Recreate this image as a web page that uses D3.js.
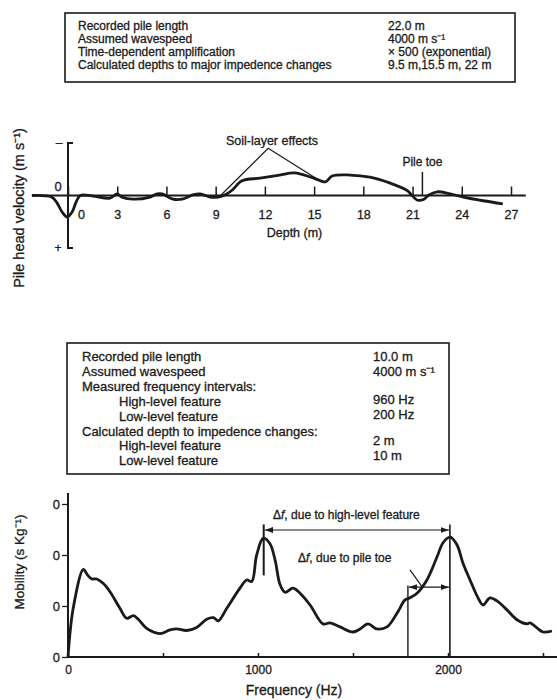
<!DOCTYPE html>
<html>
<head>
<meta charset="utf-8">
<script src="https://cdn.jsdelivr.net/npm/d3@7"></script>
<style>
  body { margin: 0; background: #fff; }
  svg { font-family: "Liberation Sans", Arial, sans-serif; fill: #1a1a1a; }
  svg text { stroke: #1a1a1a; stroke-width: 0.3px; }
</style>
</head>
<body>
<svg width="557" height="700"></svg>
<script>
// top table
var topLabels = ['Recorded pile length', 'Assumed wavespeed', 'Time-dependent amplification', 'Calculated depths to major impedence changes'];
var topValues = ['22.0 m', '4000 m s\u207B\u00B9', '\u00D7 500 (exponential)', '9.5 m,15.5 m, 22 m'];

// top chart: pile head velocity vs depth
var depth = [-2.2, -1.0, -0.67, -0.37, -0.05, 0.26, 0.5, 0.75, 1.5, 2.56, 2.99, 3.29, 3.96, 5.0, 5.43, 5.73, 6.4, 6.95, 7.6, 8.05, 8.66, 9.15, 9.5,
  10.0, 10.6, 11.7, 12.9, 13.8, 14.8, 15.4, 15.7, 16.1, 17.2, 18.4, 19.6, 20.7, 21.0, 21.3, 21.7, 21.95, 22.5, 23.3, 24.1, 25.3, 26.5];
var velocity = [0, 0.03, 0.14, 0.31, 0.41, 0.31, 0.12, 0, 0.01, 0.05, -0.03, 0.03, 0.07, 0.03, -0.03, -0.03, 0.07, 0.07, -0.01, -0.03, 0.03, 0.03, 0,
  -0.1, -0.28, -0.33, -0.39, -0.43, -0.35, -0.28, -0.26, -0.37, -0.39, -0.35, -0.24, -0.09, 0.01, 0.09, 0.07, 0, -0.07, -0.03, 0.03, 0.1, 0.16];
var depthTicks = [0, 3, 6, 9, 12, 15, 18, 21, 24, 27];

// bottom table
var botLabels = ['Recorded pile length', 'Assumed wavespeed', 'Measured frequency intervals:', 'High-level feature', 'Low-level feature',
  'Calculated depth to impedence changes:', 'High-level feature', 'Low-level feature'];
var botIndent = [0, 0, 0, 1, 1, 0, 1, 1];
var botValues = ['10.0 m', '4000 m s\u207B\u00B9', '', '960 Hz', '200 Hz', '', '2 m', '10 m'];

// bottom chart: mobility vs frequency
var freq = [0, 28, 81, 102, 125, 151, 186, 221, 274, 309, 344, 370, 414, 484, 537, 572, 625, 677, 730, 765, 791, 835, 905, 941, 967, 993, 1028,
  1063, 1090, 1116, 1142, 1184, 1221, 1274, 1342, 1379, 1432, 1500, 1537, 1579, 1626, 1679, 1732, 1774, 1800, 1837, 1889, 1942, 1974, 2011,
  2047, 2079, 2116, 2158, 2184, 2221, 2258, 2311, 2363, 2416, 2432, 2468, 2500, 2547];
var mobility = [0, 0.97, 1.72, 1.61, 1.53, 1.53, 1.44, 1.28, 0.95, 0.76, 0.81, 0.74, 0.56, 0.46, 0.53, 0.55, 0.52, 0.58, 0.74, 0.77, 0.71, 0.95,
  1.35, 1.51, 1.48, 2.0, 2.33, 2.22, 1.9, 1.42, 1.27, 1.35, 1.25, 1.02, 0.65, 0.67, 0.59, 0.49, 0.55, 0.65, 0.55, 0.59, 0.86, 1.12, 1.16, 1.25,
  1.51, 1.96, 2.24, 2.35, 2.2, 1.84, 1.51, 1.16, 1.02, 1.16, 1.1, 0.92, 0.73, 0.65, 0.67, 0.57, 0.49, 0.51];
var freqTicks = [0, 500, 1000, 1500, 2000, 2500];
var freqLabels = [0, 1000, 2000];
var mobTicks = [0, 1, 2, 3];

var svg = d3.select('svg');
var ink = '#1a1a1a';

svg.append('defs').append('marker')
  .attr('id', 'arr')
  .attr('viewBox', '0 0 10 10')
  .attr('refX', 10).attr('refY', 5)
  .attr('markerWidth', 7).attr('markerHeight', 7)
  .attr('orient', 'auto-start-reverse')
  .append('path').attr('d', 'M0,1.5L10,5L0,8.5Z').attr('fill', ink);

function drawTable(x0, y0, w, h, labels, values, opts) {
  var g = svg.append('g');
  g.append('rect')
    .attr('x', x0).attr('y', y0).attr('width', w).attr('height', h)
    .attr('fill', 'none').attr('stroke', ink).attr('stroke-width', 1.6);
  g.selectAll('text.lab')
    .data(labels)
    .enter().append('text')
    .attr('x', function(d, i) { return opts.tx + (opts.indent ? opts.indent[i] * 37 : 0); })
    .attr('y', function(d, i) { return opts.ty + i * opts.dy; })
    .style('font-size', opts.fs + 'px')
    .text(function(d) { return d; });
  g.selectAll('text.val')
    .data(values)
    .enter().append('text')
    .attr('x', opts.vx)
    .attr('y', function(d, i) { return opts.ty + i * opts.dy - (opts.vshift ? opts.vshift[i] : 0); })
    .style('font-size', opts.fs + 'px')
    .text(function(d) { return d; });
}

drawTable(65, 13, 450, 69, topLabels, topValues, { tx: 78, vx: 388, ty: 30, dy: 13, fs: 12 });

// ---- top chart
var x1 = d3.scaleLinear().domain([0, 27]).range([68, 511]);
var y1 = d3.scaleLinear().domain([-1, 1]).range([143, 248]);

// baseline with upward ticks
var ax1 = svg.append('g')
  .attr('transform', 'translate(0,' + y1(0) + ')')
  .call(d3.axisBottom(x1).tickValues(depthTicks).tickSize(-9).tickPadding(15).tickFormat(d3.format('d')));
ax1.select('.domain').remove();
ax1.selectAll('line').attr('stroke', ink).attr('stroke-width', 1.5);
ax1.selectAll('text').style('font-size', '12.5px').attr('fill', ink)
  .attr('dx', function(d) { return d === 0 ? 13 : 0; });
svg.append('line')
  .attr('x1', x1(-2.2)).attr('x2', x1(27.9))
  .attr('y1', y1(0)).attr('y2', y1(0))
  .attr('stroke', ink).attr('stroke-width', 2);

// bracket y axis
svg.append('path')
  .attr('d', 'M' + (x1(0) + 5) + ',' + y1(-1) + 'H' + x1(0) + 'V' + y1(1) + 'H' + (x1(0) + 5))
  .attr('fill', 'none').attr('stroke', ink).attr('stroke-width', 2);
svg.append('text').attr('x', x1(0) - 9).attr('y', y1(-1) + 4).attr('text-anchor', 'middle').style('font-size', '12px').text('\u2013');
svg.append('text').attr('x', x1(0) - 10).attr('y', y1(1) + 4).attr('text-anchor', 'middle').style('font-size', '12px').text('+');
svg.append('text').attr('x', x1(0) - 10).attr('y', y1(0) - 5).attr('text-anchor', 'middle').style('font-size', '13px').text('0');

svg.append('text')
  .attr('x', (x1(0) + x1(27)) / 2 + 5).attr('y', 237)
  .attr('text-anchor', 'middle').style('font-size', '12.5px')
  .text('Depth (m)');
svg.append('text')
  .attr('transform', 'translate(24,' + 208 + ') rotate(-90)')
  .attr('text-anchor', 'middle').style('font-size', '14.5px')
  .text('Pile head velocity (m s\u207B\u00B9)');

var line1 = d3.line()
  .x(function(d, i) { return x1(depth[i]); })
  .y(function(d) { return y1(d); })
  .curve(d3.curveCatmullRom);
svg.append('path')
  .datum(velocity)
  .attr('fill', 'none').attr('stroke', ink).attr('stroke-width', 2.8)
  .attr('stroke-linejoin', 'round')
  .attr('d', line1);

// soil layer annotation
var apex = [x1(12.2), y1(-0.9)];
svg.append('path')
  .attr('d', 'M' + x1(9.3) + ',' + y1(0) + 'L' + apex[0] + ',' + apex[1] + 'L' + x1(15.3) + ',' + y1(-0.29))
  .attr('fill', 'none').attr('stroke', ink).attr('stroke-width', 1.2);
svg.append('text').attr('x', 272).attr('y', 145).attr('text-anchor', 'middle').style('font-size', '12.5px').text('Soil-layer effects');

// pile toe
svg.append('line')
  .attr('x1', x1(21.6)).attr('x2', x1(21.6))
  .attr('y1', y1(0)).attr('y2', y1(-0.45))
  .attr('stroke', ink).attr('stroke-width', 1.5);
svg.append('text').attr('x', x1(21.6)).attr('y', 166).attr('text-anchor', 'middle').style('font-size', '12px').text('Pile toe');

// ---- bottom table
drawTable(67, 343, 382, 131, botLabels, botValues,
  { tx: 82, vx: 373, ty: 361, dy: 14.9, fs: 13, indent: botIndent, vshift: [0, 0, 0, 2, 2, 0, 5, 5] });

// ---- bottom chart
var x2 = d3.scaleLinear().domain([0, 2000]).range([68, 448]);
var y2 = d3.scaleLinear().domain([0, 3]).range([657, 504]);

var ax2 = svg.append('g')
  .attr('transform', 'translate(0,' + y2(0) + ')')
  .call(d3.axisBottom(x2).tickValues(freqTicks).tickSize(-4).tickPadding(8)
    .tickFormat(function(d) { return freqLabels.indexOf(d) >= 0 ? d : ''; }));
ax2.select('.domain').remove();
ax2.selectAll('line').attr('stroke', ink).attr('stroke-width', 1.5);
ax2.selectAll('text').style('font-size', '12px').attr('fill', ink);
svg.append('line')
  .attr('x1', x2(0)).attr('x2', 557)
  .attr('y1', y2(0)).attr('y2', y2(0))
  .attr('stroke', ink).attr('stroke-width', 2);

var ay2 = svg.append('g')
  .attr('transform', 'translate(' + x2(0) + ',0)')
  .call(d3.axisLeft(y2).tickValues(mobTicks).tickSize(6).tickPadding(2).tickFormat(function() { return '0'; }));
ay2.select('.domain').remove();
ay2.selectAll('line').attr('stroke', ink).attr('stroke-width', 1.3);
ay2.selectAll('text').style('font-size', '13px').attr('fill', ink);
svg.append('line')
  .attr('x1', x2(0)).attr('x2', x2(0))
  .attr('y1', 493).attr('y2', y2(0))
  .attr('stroke', ink).attr('stroke-width', 2);

svg.append('text')
  .attr('x', 294).attr('y', 695)
  .attr('text-anchor', 'middle').style('font-size', '14px')
  .text('Frequency (Hz)');
svg.append('text')
  .attr('transform', 'translate(24,' + 562 + ') rotate(-90)')
  .attr('text-anchor', 'middle').style('font-size', '13.5px')
  .text('Mobility (s Kg\u207B\u00B9)');

var line2 = d3.line()
  .x(function(d, i) { return x2(freq[i]); })
  .y(function(d) { return y2(d); })
  .curve(d3.curveCatmullRom);
svg.append('path')
  .datum(mobility)
  .attr('fill', 'none').attr('stroke', ink).attr('stroke-width', 2.8)
  .attr('stroke-linejoin', 'round')
  .attr('d', line2);

// delta-f annotations
function vline(f, v0, v1, w) {
  svg.append('line')
    .attr('x1', x2(f)).attr('x2', x2(f))
    .attr('y1', y2(v0)).attr('y2', y2(v1))
    .attr('stroke', ink).attr('stroke-width', w);
}
vline(1030, 1.6, 2.6, 2);
vline(2010, 0, 2.6, 1.6);
vline(1789, 0, 1.4, 1.4);

function harrow(f0, f1, v) {
  svg.append('line')
    .attr('x1', x2(f0) + 1).attr('x2', x2(f1) - 1)
    .attr('y1', y2(v)).attr('y2', y2(v))
    .attr('stroke', ink).attr('stroke-width', 1.2)
    .attr('marker-start', 'url(#arr)').attr('marker-end', 'url(#arr)');
}
harrow(1030, 2010, 2.49);
harrow(1789, 2010, 1.37);

function dfLabel(x, y, rest) {
  var t = svg.append('text').attr('x', x).attr('y', y).style('font-size', '12px');
  t.append('tspan').text('\u0394');
  t.append('tspan').style('font-style', 'italic').text('f');
  t.append('tspan').text(',  ' + rest);
}
dfLabel(273, 519, 'due to high-level feature');
dfLabel(298, 562, 'due to pile toe');
svg.append('line')
  .attr('x1', x2(1800)).attr('x2', x2(1865))
  .attr('y1', y2(1.71)).attr('y2', y2(1.37))
  .attr('stroke', ink).attr('stroke-width', 1.2);
</script>
</body>
</html>
